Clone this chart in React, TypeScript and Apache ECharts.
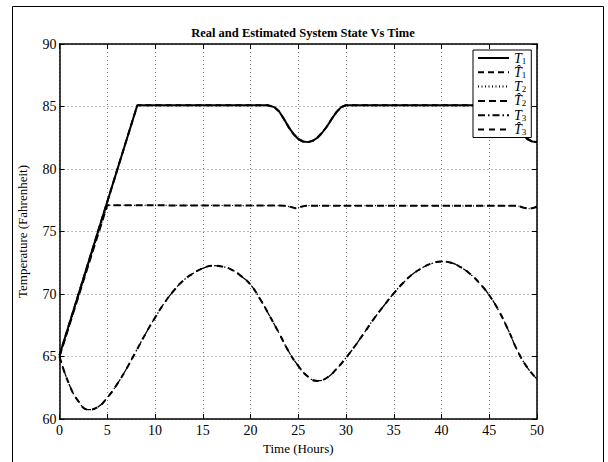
import React, { useEffect, useRef } from "react";
import * as echarts from "echarts";

// Real room temperature T1 (time in hours, temperature in °F)
const t1Time = [0, 8.15, 21.8, 22.5, 23, 23.5, 24, 24.5, 25, 25.5, 26, 26.5, 27, 27.5, 28, 28.5, 29, 29.5, 30, 45.8, 46.5, 47, 47.5, 48, 48.5, 49, 49.5, 50];
const t1Temp = [65.1, 85.1, 85.1, 84.95, 84.6, 84.0, 83.35, 82.8, 82.4, 82.2, 82.15, 82.25, 82.5, 82.9, 83.4, 84.0, 84.55, 84.95, 85.1, 85.1, 84.95, 84.6, 84.0, 83.35, 82.8, 82.4, 82.2, 82.15];
// Estimated T1
const t1HatTime = t1Time;
const t1HatTemp = t1Temp;
// Real T2
const t2Time = [0, 5.0, 23.5, 24.2, 24.7, 25.2, 25.8, 48, 48.6, 49.2, 49.7, 50];
const t2Temp = [65.0, 77.1, 77.07, 76.97, 76.86, 76.96, 77.07, 77.05, 76.9, 76.82, 76.9, 77.0];
// Estimated T2
const t2HatTime = t2Time;
const t2HatTemp = t2Temp;
// Real T3 (outside temperature), hourly
const t3Time = [0, 1, 2, 3, 4, 5, 6, 7, 8, 9, 10, 11, 12, 13, 14, 15, 16, 17, 18, 19, 20, 21, 22, 23, 24, 25, 26, 27, 28, 29, 30, 31, 32, 33, 34, 35, 36, 37, 38, 39, 40, 41, 42, 43, 44, 45, 46, 47, 48, 49, 50];
const t3Temp = [65.0, 62.8, 61.4, 60.75, 60.95, 61.7, 62.75, 64.0, 65.4, 66.8, 68.1, 69.3, 70.3, 71.1, 71.65, 72.05, 72.27, 72.2, 71.95, 71.45, 70.75, 69.6, 68.25, 66.85, 65.4, 64.25, 63.4, 63.05, 63.3, 64.0, 64.9, 65.9, 67.0, 68.1, 69.1, 70.05, 70.9, 71.6, 72.1, 72.45, 72.6, 72.5, 72.15, 71.6, 70.85, 69.9, 68.65, 67.1, 65.4, 64.1, 63.2];
// Estimated T3
const t3HatTime = t3Time;
const t3HatTemp = t3Temp;

const xTicks = [0, 5, 10, 15, 20, 25, 30, 35, 40, 45, 50];
const yTicks = [60, 65, 70, 75, 80, 85, 90];

const legendLabels: Record<string, string> = {
  T1: "{t|T}{s|1}",
  T1h: "{t|T\u0302}{s|1}",
  T2: "{t|T}{s|2}",
  T2h: "{t|T\u0302}{s|2}",
  T3: "{t|T}{s|3}",
  T3h: "{t|T\u0302}{s|3}",
};

const pairs = (xs: number[], ys: number[]) => xs.map((x, i) => [x, ys[i]]);

const FONT = "Liberation Serif";

export default function App() {
  const ref = useRef<HTMLDivElement>(null);
  useEffect(() => {
    if (!ref.current) return;
    const chart = echarts.init(ref.current, null, { renderer: "svg" });
    const axisCommon = {
      type: "value",
      axisLine: { show: true, onZero: false, lineStyle: { color: "#000", width: 1.5 } },
      axisTick: { show: true, inside: true, length: 5, lineStyle: { color: "#000", width: 1 } },
    };
    const mkLine = (name: string, data: number[][], type: any, width: number, z: number, smooth: boolean) => ({
      name,
      type: "line",
      data,
      symbol: "none",
      showSymbol: false,
      smooth,
      z,
      lineStyle: { color: "#000", width, type },
      itemStyle: { color: "#000", opacity: 0 },
    });
    chart.setOption({
      animation: false,
      backgroundColor: "#fff",
      title: {
        text: "Real and Estimated System State Vs Time",
        left: 298,
        top: 21,
        textAlign: "center",
        textStyle: { fontFamily: FONT, fontWeight: "bold", fontSize: 12.5, color: "#000" },
      },
      graphic: [
        {
          type: "rect",
          shape: { x: 12.5, y: 6.5, width: 591, height: 480 },
          style: { fill: "none", stroke: "#000", lineWidth: 1 },
          silent: true,
        },
      ],
      grid: { left: 59.5, right: 71, top: 44, bottom: 43 },
      legend: {
        orient: "vertical",
        left: 473,
        top: 50,
        z: 10,
        backgroundColor: "#fff",
        borderColor: "#000",
        borderWidth: 1,
        borderRadius: 0,
        padding: [1, 5, 1, 4],
        itemWidth: 31,
        itemHeight: 14,
        itemGap: 0.3,
        itemStyle: { color: "rgba(0,0,0,0)", opacity: 0, borderWidth: 0 },
        formatter: (n: string) => legendLabels[n] || n,
        textStyle: {
          fontFamily: FONT,
          color: "#000",
          rich: {
            t: { fontFamily: FONT, fontStyle: "italic", fontSize: 14, color: "#000", lineHeight: 14 },
            s: { fontFamily: FONT, fontSize: 9, color: "#000", lineHeight: 9, padding: [5, 0, 0, 0] },
          },
        },
        data: ["T1", "T1h", "T2", "T2h", "T3", "T3h"],
      },
      xAxis: [
        {
          ...axisCommon,
          position: "bottom",
          min: 0,
          max: 50,
          interval: 5,
          name: "Time (Hours)",
          nameLocation: "middle",
          nameGap: 21,
          nameTextStyle: { fontFamily: FONT, fontSize: 13, color: "#000" },
          axisLabel: {
            fontFamily: FONT,
            fontSize: 14,
            color: "#000",
            margin: 4,
            formatter: (v: number) => (xTicks.includes(v) ? String(v) : ""),
          },
          splitLine: { show: true, lineStyle: { color: "#777", type: [1, 3], width: 1 } },
        },
        {
          ...axisCommon,
          position: "top",
          min: 0,
          max: 50,
          interval: 5,
          axisLabel: { show: false },
          splitLine: { show: false },
        },
      ],
      yAxis: [
        {
          ...axisCommon,
          position: "left",
          min: 60,
          max: 90,
          interval: 5,
          name: "Temperature (Fahrenheit)",
          nameLocation: "middle",
          nameGap: 31,
          nameTextStyle: { fontFamily: FONT, fontSize: 13, color: "#000" },
          axisLabel: {
            fontFamily: FONT,
            fontSize: 14,
            color: "#000",
            margin: 3,
            formatter: (v: number) => (yTicks.includes(v) ? String(v) : ""),
          },
          splitLine: { show: true, lineStyle: { color: "#777", type: [1, 3], width: 1 } },
        },
        {
          ...axisCommon,
          position: "right",
          min: 60,
          max: 90,
          interval: 5,
          axisLabel: { show: false },
          splitLine: { show: false },
        },
      ],
      series: [
        mkLine("T1", pairs(t1Time, t1Temp), "solid", 2, 3, false),
        mkLine("T1h", pairs(t1HatTime, t1HatTemp), [6, 4], 2, 4, false),
        mkLine("T2", pairs(t2Time, t2Temp), [1, 2.5], 1.2, 3, false),
        mkLine("T2h", pairs(t2HatTime, t2HatTemp), [7, 4], 2, 4, false),
        mkLine("T3", pairs(t3Time, t3Temp), [7, 3, 1.5, 3], 1.3, 3, true),
        mkLine("T3h", pairs(t3HatTime, t3HatTemp), [6, 5], 2, 4, true),
      ],
    });
    return () => chart.dispose();
  }, []);
  return (
    <div
      ref={ref}
      style={{ position: "fixed", left: 0, top: 0, width: 608, height: 462 }}
    />
  );
}
